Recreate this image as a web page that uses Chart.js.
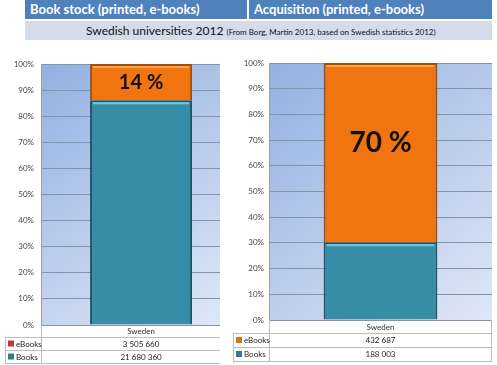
<!DOCTYPE html>
<html>
<head>
<meta charset="utf-8">
<script src="https://cdn.jsdelivr.net/npm/chart.js@4"></script>
<style>
  html, body { margin: 0; padding: 0; background: #fff; }
  body { width: 497px; height: 365px; position: relative; overflow: hidden; font-family: Lato, "Open Sans", sans-serif; }
  .hdr { position: absolute; top: 0; height: 19px; background: #4f81bd; color: #fff; font-weight: bold; font-size: 13px; line-height: 19px; box-sizing: border-box; padding-left: 5px; white-space: nowrap; }
  #h1 { left: 25px; width: 222px; }
  #h2 { left: 249px; width: 243px; }
  #sub { position: absolute; left: 25px; top: 21px; width: 467px; height: 19px; background: #d5dbe9; color: #111; font-size: 12px; line-height: 19px; box-sizing: border-box; padding-left: 61px; white-space: nowrap; }
  #sub small { font-size: 8px; }
  .wrap { position: absolute; top: 45px; height: 320px; }
  #w1 { left: 0; width: 247px; }
  #w2 { left: 230px; width: 267px; }
</style>
</head>
<body>
<div class="hdr" id="h1">Book stock (printed, e-books)</div>
<div class="hdr" id="h2">Acquisition (printed, e-books)</div>
<div id="sub">Swedish universities 2012 <small>(From Borg, Martin 2013, based on Swedish statistics 2012)</small></div>
<div class="wrap" id="w1"><canvas id="c1" width="247" height="320"></canvas></div>
<div class="wrap" id="w2"><canvas id="c2" width="267" height="320"></canvas></div>
<script>
// ---- data ----
const categories = ['Sweden'];
const seriesNames = ['eBooks', 'Books'];
const stockEbooks = [3505660];
const stockBooks = [21680360];
const acqEbooks = [432687];
const acqBooks = [188003];
const stockShareLabel = ['14 %'];
const acqShareLabel = ['70 %'];
const yTickValues = [0, 10, 20, 30, 40, 50, 60, 70, 80, 90, 100];

const FONT = 'Lato, "Open Sans", sans-serif';
function fmt(n) { return String(n).replace(/\B(?=(\d{3})+(?!\d))/g, ' '); }
function pct(a, b) { return a.map((v, i) => ({ x: i, y: v / (v + b[i]) * 100 })); }

const bgPlugin = {
  id: 'bgPlugin',
  beforeDraw(chart) {
    const { ctx, chartArea: a } = chart;
    const g = ctx.createLinearGradient(a.left, a.top, a.right, a.bottom);
    g.addColorStop(0, '#92b0e1');
    g.addColorStop(1, '#dfe7f5');
    ctx.save();
    ctx.fillStyle = g;
    ctx.fillRect(a.left, a.top, a.right - a.left, a.bottom - a.top);
    ctx.restore();
  }
};

const barDeco = {
  id: 'barDeco',
  afterDatasetsDraw(chart, args, opts) {
    const ctx = chart.ctx;
    ctx.save();
    chart.data.datasets.forEach((ds, di) => {
      chart.getDatasetMeta(di).data.forEach(el => {
        const l = el.x - el.width / 2, r = el.x + el.width / 2;
        ctx.strokeStyle = ds.highlight;
        ctx.lineWidth = 2;
        ctx.beginPath();
        ctx.moveTo(l + 3, el.y + 3);
        ctx.lineTo(r - 3, el.y + 3);
        ctx.stroke();
      });
    });
    const meta = chart.getDatasetMeta(1);
    meta.data.forEach((el, i) => {
      ctx.font = 'bold ' + opts.size + 'px ' + FONT;
      ctx.fillStyle = '#111';
      ctx.textAlign = 'center';
      ctx.textBaseline = 'middle';
      ctx.fillText(opts.labels[i], el.x, (el.y + el.base) / 2 + opts.dy);
    });
    ctx.restore();
  }
};

const tablePlugin = {
  id: 'tablePlugin',
  afterDraw(chart, args, opts) {
    const { ctx, chartArea: a } = chart;
    const xs = chart.scales.x;
    const top = xs.bottom;
    const rh = opts.rowH;
    ctx.save();
    ctx.strokeStyle = '#bdbdbd';
    ctx.lineWidth = 1;
    for (let k = 0; k <= 2; k++) {
      const y = Math.round(top + k * rh) + 0.5;
      ctx.beginPath(); ctx.moveTo(opts.legLeft, y); ctx.lineTo(a.right, y); ctx.stroke();
    }
    ctx.beginPath();
    ctx.moveTo(opts.legLeft + 0.5, top); ctx.lineTo(opts.legLeft + 0.5, top + 2 * rh);
    ctx.moveTo(Math.round(a.left) + 0.5, a.bottom); ctx.lineTo(Math.round(a.left) + 0.5, top + 2 * rh);
    if (opts.rightLine) { ctx.moveTo(Math.round(a.right) - 0.5, a.bottom); ctx.lineTo(Math.round(a.right) - 0.5, top + 2 * rh); }
    ctx.stroke();
    ctx.font = '8px ' + FONT;
    ctx.textBaseline = 'middle';
    ctx.fillStyle = '#333';
    ctx.textAlign = 'center';
    categories.forEach((c, i) => ctx.fillText(c, xs.getPixelForValue(i), (a.bottom + top) / 2 + 0.5));
    const rows = [chart.data.datasets[1], chart.data.datasets[0]];
    rows.forEach((ds, k) => {
      const cy = top + k * rh + rh / 2;
      ctx.fillStyle = ds.swatch;
      ctx.fillRect(opts.legLeft + 3, cy - 3, 6, 6);
      ctx.fillStyle = '#222';
      ctx.textAlign = 'left';
      ctx.fillText(ds.label, opts.legLeft + 11, cy + 0.5);
      ctx.textAlign = 'center';
      ds.raw.forEach((v, i) => ctx.fillText(fmt(v), xs.getPixelForValue(i), cy + 0.5));
    });
    ctx.restore();
  }
};

function makeChart(id, ebooks, books, o) {
  return new Chart(document.getElementById(id), {
    type: 'bar',
    data: {
      datasets: [
        { label: seriesNames[1], data: pct(books, ebooks), raw: books, backgroundColor: '#378ca6', borderColor: '#1d5566', borderWidth: 2, highlight: '#6cc8e2', swatch: '#2f7d95', barPercentage: o.barPct, categoryPercentage: 1 },
        { label: seriesNames[0], data: pct(ebooks, books), raw: ebooks, backgroundColor: '#f07510', borderColor: '#a64d08', borderWidth: 2, highlight: '#f9a552', swatch: o.ebSwatch, barPercentage: o.barPct, categoryPercentage: 1 }
      ]
    },
    options: {
      responsive: false,
      animation: false,
      devicePixelRatio: 1,
      layout: { padding: { top: o.padTop, right: o.padRight, left: 0, bottom: o.padBottom } },
      plugins: {
        legend: { display: false },
        tooltip: { enabled: false },
        barDeco: { labels: o.labels, size: o.labelSize, dy: o.labelDy },
        tablePlugin: { rowH: o.rowH, legLeft: o.legLeft, rightLine: o.rightLine }
      },
      scales: {
        x: {
          type: 'linear',
          stacked: true,
          offset: false,
          min: o.xMin, max: o.xMin + 1,
          afterBuildTicks(s) { s.ticks = categories.map((c, i) => ({ value: i })); },
          grid: { display: false },
          border: { display: false },
          ticks: { display: false },
          afterFit(s) { s.height = o.xH; }
        },
        y: {
          stacked: true,
          min: 0, max: 100,
          afterBuildTicks(s) { s.ticks = yTickValues.map(v => ({ value: v })); },
          grid: { color: '#8593a8', lineWidth: 1, drawTicks: false },
          border: { display: true, color: '#a0a0a0' },
          ticks: { color: '#444', padding: o.tickPad, font: { size: 8, family: FONT }, callback: v => v + '%' },
          afterFit(s) { s.width = o.yW; }
        }
      }
    },
    plugins: [bgPlugin, barDeco, tablePlugin]
  });
}

makeChart('c1', stockEbooks, stockBooks, {
  barPct: 0.57, xMin: -0.559, padTop: 19, padRight: 27, padBottom: 28, xH: 12, yW: 41, tickPad: 7,
  labels: stockShareLabel, labelSize: 20, labelDy: 0, rowH: 13, legLeft: 5, rightLine: false, ebSwatch: '#b83a3a'
});
makeChart('c2', acqEbooks, acqBooks, {
  barPct: 0.51, xMin: -0.5, padTop: 18, padRight: 5, padBottom: 32, xH: 13, yW: 39, tickPad: 5,
  labels: acqShareLabel, labelSize: 28, labelDy: -10, rowH: 14, legLeft: 3, rightLine: true, ebSwatch: '#e86c0c'
});
</script>
</body>
</html>
